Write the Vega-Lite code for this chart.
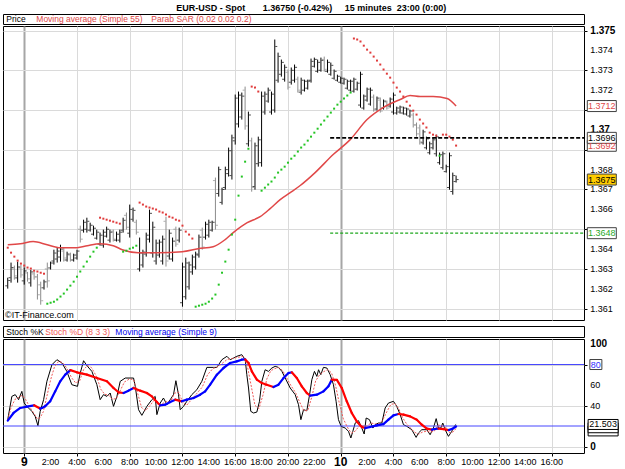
{
"$schema": "https://vega.github.io/schema/vega-lite/v6.json",
"background": "#ffffff",
"padding": {"left": 2, "top": 3, "right": 0, "bottom": 0},
"title": {"text": "EUR-USD - Spot\u00a0\u00a0\u00a0\u00a0\u00a0\u00a0 1.36750 (-0.42%)\u00a0\u00a0\u00a0\u00a0 15 minutes\u00a0 23:00 (0:00)", "fontSize": 9, "fontWeight": "bold", "font": "Liberation Sans", "anchor": "middle", "offset": 1, "color": "#000000"},
"config": {"view": {"stroke": "#000000", "strokeWidth": 1}, "font": "Liberation Sans"},
"datasets": {
"bars": [
{"t":-1.25,"o":1.36215,"h":1.36256,"l":1.36201,"c":1.36242,"sar":1.36407,"side":"d"},
{"t":-1,"o":1.36256,"h":1.36332,"l":1.36231,"c":1.36307,"sar":1.36382,"side":"d"},
{"t":-0.75,"o":1.363,"h":1.36317,"l":1.36246,"c":1.36265,"sar":1.36362,"side":"d"},
{"t":-0.5,"o":1.36255,"h":1.36337,"l":1.36231,"c":1.3631,"sar":1.36342,"side":"d"},
{"t":-0.25,"o":1.36305,"h":1.36322,"l":1.36256,"c":1.3627,"sar":1.36327,"side":"d"},
{"t":0,"o":1.3624,"h":1.36307,"l":1.36221,"c":1.3629,"sar":1.36317,"side":"d"},
{"t":0.25,"o":1.3628,"h":1.36285,"l":1.36236,"c":1.3625,"sar":1.36307,"side":"d"},
{"t":0.5,"o":1.3623,"h":1.36295,"l":1.36211,"c":1.36285,"sar":1.36302,"side":"d"},
{"t":0.75,"o":1.36275,"h":1.36285,"l":1.36246,"c":1.3626,"sar":1.36291,"side":"d"},
{"t":1,"o":1.3626,"h":1.36275,"l":1.36146,"c":1.3617,"sar":1.36287,"side":"d"},
{"t":1.25,"o":1.3622,"h":1.36236,"l":1.3612,"c":1.3614,"sar":1.36281,"side":"d"},
{"t":1.5,"o":1.36205,"h":1.36246,"l":1.36196,"c":1.36235,"sar":1.36276,"side":"d"},
{"t":1.75,"o":1.363,"h":1.36332,"l":1.36206,"c":1.3624,"sar":1.36125,"side":"u"},
{"t":2,"o":1.36305,"h":1.36337,"l":1.36297,"c":1.3633,"sar":1.3613,"side":"u"},
{"t":2.25,"o":1.3634,"h":1.36397,"l":1.36322,"c":1.3638,"sar":1.36135,"side":"u"},
{"t":2.5,"o":1.3635,"h":1.36407,"l":1.36332,"c":1.3639,"sar":1.36146,"side":"u"},
{"t":2.75,"o":1.3636,"h":1.36422,"l":1.36337,"c":1.364,"sar":1.36161,"side":"u"},
{"t":3,"o":1.3639,"h":1.36407,"l":1.36337,"c":1.36355,"sar":1.36176,"side":"u"},
{"t":3.25,"o":1.36345,"h":1.36387,"l":1.36337,"c":1.36375,"sar":1.36196,"side":"u"},
{"t":3.5,"o":1.3637,"h":1.36382,"l":1.36337,"c":1.36345,"sar":1.36216,"side":"u"},
{"t":3.75,"o":1.36345,"h":1.36377,"l":1.36337,"c":1.3637,"sar":1.36236,"side":"u"},
{"t":4,"o":1.36355,"h":1.36397,"l":1.36347,"c":1.3639,"sar":1.36261,"side":"u"},
{"t":4.25,"o":1.365,"h":1.36518,"l":1.36433,"c":1.3645,"sar":1.36287,"side":"u"},
{"t":4.5,"o":1.36495,"h":1.36548,"l":1.36483,"c":1.36535,"sar":1.36312,"side":"u"},
{"t":4.75,"o":1.365,"h":1.36558,"l":1.36483,"c":1.3654,"sar":1.36337,"side":"u"},
{"t":5,"o":1.36495,"h":1.36533,"l":1.36488,"c":1.3652,"sar":1.36362,"side":"u"},
{"t":5.25,"o":1.36475,"h":1.36518,"l":1.36468,"c":1.36505,"sar":1.36387,"side":"u"},
{"t":5.5,"o":1.36455,"h":1.36498,"l":1.36448,"c":1.36485,"sar":1.36407,"side":"u"},
{"t":5.75,"o":1.36425,"h":1.36483,"l":1.36417,"c":1.3647,"sar":1.36558,"side":"d"},
{"t":6,"o":1.3642,"h":1.36498,"l":1.36407,"c":1.36485,"sar":1.36553,"side":"d"},
{"t":6.25,"o":1.36465,"h":1.36513,"l":1.36458,"c":1.365,"sar":1.36548,"side":"d"},
{"t":6.5,"o":1.36445,"h":1.36498,"l":1.36433,"c":1.36485,"sar":1.36543,"side":"d"},
{"t":6.75,"o":1.3649,"h":1.36498,"l":1.36438,"c":1.3645,"sar":1.36538,"side":"d"},
{"t":7,"o":1.36445,"h":1.36488,"l":1.36438,"c":1.36475,"sar":1.36533,"side":"d"},
{"t":7.25,"o":1.36445,"h":1.36498,"l":1.36433,"c":1.36485,"sar":1.36528,"side":"d"},
{"t":7.5,"o":1.36495,"h":1.36558,"l":1.36483,"c":1.36545,"sar":1.36387,"side":"u"},
{"t":7.75,"o":1.3657,"h":1.36584,"l":1.36498,"c":1.3651,"sar":1.36392,"side":"u"},
{"t":8,"o":1.3648,"h":1.36624,"l":1.36458,"c":1.366,"sar":1.36402,"side":"u"},
{"t":8.25,"o":1.3655,"h":1.36609,"l":1.36538,"c":1.36595,"sar":1.36407,"side":"u"},
{"t":8.5,"o":1.36535,"h":1.36548,"l":1.36473,"c":1.36485,"sar":1.36417,"side":"u"},
{"t":8.75,"o":1.363,"h":1.36458,"l":1.36287,"c":1.3638,"sar":1.36634,"side":"d"},
{"t":9,"o":1.3632,"h":1.36397,"l":1.36307,"c":1.36385,"sar":1.36624,"side":"d"},
{"t":9.25,"o":1.36375,"h":1.36483,"l":1.36362,"c":1.3647,"sar":1.36614,"side":"d"},
{"t":9.5,"o":1.3645,"h":1.36599,"l":1.36433,"c":1.3658,"sar":1.36609,"side":"d"},
{"t":9.75,"o":1.3638,"h":1.36538,"l":1.36357,"c":1.3651,"sar":1.36604,"side":"d"},
{"t":10,"o":1.3634,"h":1.36448,"l":1.36322,"c":1.3643,"sar":1.36599,"side":"d"},
{"t":10.25,"o":1.3637,"h":1.36448,"l":1.36357,"c":1.36435,"sar":1.36589,"side":"d"},
{"t":10.5,"o":1.3634,"h":1.36468,"l":1.36322,"c":1.3645,"sar":1.36584,"side":"d"},
{"t":10.75,"o":1.3654,"h":1.36563,"l":1.36312,"c":1.3634,"sar":1.36574,"side":"d"},
{"t":11,"o":1.36365,"h":1.36498,"l":1.36347,"c":1.3648,"sar":1.36563,"side":"d"},
{"t":11.25,"o":1.3635,"h":1.36458,"l":1.36337,"c":1.3644,"sar":1.36558,"side":"d"},
{"t":11.5,"o":1.365,"h":1.36513,"l":1.36412,"c":1.36425,"sar":1.36548,"side":"d"},
{"t":11.75,"o":1.36445,"h":1.36508,"l":1.36433,"c":1.36495,"sar":1.36543,"side":"d"},
{"t":12,"o":1.3613,"h":1.36332,"l":1.3611,"c":1.3631,"sar":1.36518,"side":"d"},
{"t":12.25,"o":1.3616,"h":1.36357,"l":1.36146,"c":1.3633,"sar":1.36488,"side":"d"},
{"t":12.5,"o":1.3621,"h":1.36337,"l":1.36196,"c":1.3632,"sar":1.36473,"side":"d"},
{"t":12.75,"o":1.36285,"h":1.36372,"l":1.36271,"c":1.3636,"sar":1.36453,"side":"d"},
{"t":13,"o":1.3631,"h":1.36387,"l":1.36297,"c":1.36375,"sar":1.3611,"side":"u"},
{"t":13.25,"o":1.3637,"h":1.36473,"l":1.36357,"c":1.3646,"sar":1.36115,"side":"u"},
{"t":13.5,"o":1.36495,"h":1.36508,"l":1.36397,"c":1.3641,"sar":1.3612,"side":"u"},
{"t":13.75,"o":1.3646,"h":1.36538,"l":1.36448,"c":1.36525,"sar":1.36125,"side":"u"},
{"t":14,"o":1.3647,"h":1.36548,"l":1.36458,"c":1.36535,"sar":1.36135,"side":"u"},
{"t":14.25,"o":1.36495,"h":1.36543,"l":1.36488,"c":1.36535,"sar":1.36151,"side":"u"},
{"t":14.5,"o":1.36745,"h":1.3676,"l":1.36498,"c":1.3652,"sar":1.36171,"side":"u"},
{"t":14.75,"o":1.3668,"h":1.36815,"l":1.36664,"c":1.368,"sar":1.36221,"side":"u"},
{"t":15,"o":1.36635,"h":1.36709,"l":1.36624,"c":1.367,"sar":1.36281,"side":"u"},
{"t":15.25,"o":1.3671,"h":1.36815,"l":1.36699,"c":1.368,"sar":1.36337,"side":"u"},
{"t":15.5,"o":1.3678,"h":1.36911,"l":1.36765,"c":1.36895,"sar":1.36397,"side":"u"},
{"t":15.75,"o":1.3677,"h":1.36976,"l":1.3675,"c":1.3696,"sar":1.36473,"side":"u"},
{"t":16,"o":1.36945,"h":1.37178,"l":1.36926,"c":1.3716,"sar":1.36548,"side":"u"},
{"t":16.25,"o":1.3703,"h":1.37193,"l":1.37012,"c":1.37175,"sar":1.36669,"side":"u"},
{"t":16.5,"o":1.37065,"h":1.37188,"l":1.37052,"c":1.3717,"sar":1.36765,"side":"u"},
{"t":16.75,"o":1.372,"h":1.37218,"l":1.37001,"c":1.3702,"sar":1.3684,"side":"u"},
{"t":17,"o":1.3693,"h":1.37092,"l":1.36916,"c":1.37075,"sar":1.36905,"side":"u"},
{"t":17.25,"o":1.36945,"h":1.36961,"l":1.36689,"c":1.3671,"sar":1.37218,"side":"d"},
{"t":17.5,"o":1.36715,"h":1.36936,"l":1.36699,"c":1.3692,"sar":1.37213,"side":"d"},
{"t":17.75,"o":1.3683,"h":1.36966,"l":1.36815,"c":1.3695,"sar":1.37193,"side":"d"},
{"t":18,"o":1.36835,"h":1.37193,"l":1.36815,"c":1.3717,"sar":1.36694,"side":"u"},
{"t":18.25,"o":1.3709,"h":1.37193,"l":1.37077,"c":1.3718,"sar":1.36709,"side":"u"},
{"t":18.5,"o":1.37145,"h":1.37213,"l":1.37137,"c":1.372,"sar":1.36725,"side":"u"},
{"t":18.75,"o":1.3709,"h":1.37193,"l":1.37077,"c":1.3718,"sar":1.3674,"side":"u"},
{"t":19,"o":1.371,"h":1.37455,"l":1.37087,"c":1.3742,"sar":1.3676,"side":"u"},
{"t":19.25,"o":1.3725,"h":1.37389,"l":1.37238,"c":1.3737,"sar":1.36785,"side":"u"},
{"t":19.5,"o":1.3728,"h":1.37354,"l":1.37268,"c":1.3734,"sar":1.368,"side":"u"},
{"t":19.75,"o":1.37255,"h":1.37329,"l":1.37243,"c":1.37315,"sar":1.36815,"side":"u"},
{"t":20,"o":1.3729,"h":1.37304,"l":1.37203,"c":1.37215,"sar":1.36835,"side":"u"},
{"t":20.25,"o":1.3724,"h":1.37314,"l":1.37228,"c":1.373,"sar":1.36855,"side":"u"},
{"t":20.5,"o":1.3725,"h":1.37329,"l":1.37238,"c":1.37315,"sar":1.3687,"side":"u"},
{"t":20.75,"o":1.37255,"h":1.37268,"l":1.37188,"c":1.372,"sar":1.36891,"side":"u"},
{"t":21,"o":1.3719,"h":1.37263,"l":1.37178,"c":1.3725,"sar":1.36911,"side":"u"},
{"t":21.25,"o":1.372,"h":1.37253,"l":1.37193,"c":1.37245,"sar":1.36926,"side":"u"},
{"t":21.5,"o":1.3721,"h":1.37253,"l":1.37203,"c":1.37245,"sar":1.36946,"side":"u"},
{"t":21.75,"o":1.3725,"h":1.37359,"l":1.37238,"c":1.37345,"sar":1.36966,"side":"u"},
{"t":22,"o":1.3732,"h":1.37364,"l":1.37314,"c":1.37355,"sar":1.36986,"side":"u"},
{"t":22.25,"o":1.37295,"h":1.37354,"l":1.37288,"c":1.3734,"sar":1.37006,"side":"u"},
{"t":22.5,"o":1.373,"h":1.37364,"l":1.37293,"c":1.3735,"sar":1.37027,"side":"u"},
{"t":22.75,"o":1.37355,"h":1.37369,"l":1.37293,"c":1.37305,"sar":1.37047,"side":"u"},
{"t":23,"o":1.37295,"h":1.37354,"l":1.37288,"c":1.3734,"sar":1.37067,"side":"u"},
{"t":23.25,"o":1.3728,"h":1.37339,"l":1.37273,"c":1.37325,"sar":1.37087,"side":"u"},
{"t":23.5,"o":1.3726,"h":1.37304,"l":1.37253,"c":1.37295,"sar":1.37107,"side":"u"},
{"t":23.75,"o":1.3725,"h":1.37278,"l":1.37243,"c":1.3727,"sar":1.37127,"side":"u"},
{"t":24,"o":1.3724,"h":1.37268,"l":1.37233,"c":1.3726,"sar":1.37142,"side":"u"},
{"t":24.25,"o":1.37235,"h":1.37263,"l":1.37228,"c":1.37255,"sar":1.37158,"side":"u"},
{"t":24.5,"o":1.3721,"h":1.37253,"l":1.37203,"c":1.37245,"sar":1.37173,"side":"u"},
{"t":24.75,"o":1.372,"h":1.37253,"l":1.37193,"c":1.37245,"sar":1.37188,"side":"u"},
{"t":25,"o":1.37195,"h":1.37263,"l":1.37188,"c":1.37255,"sar":1.3746,"side":"d"},
{"t":25.25,"o":1.37205,"h":1.37243,"l":1.37198,"c":1.37235,"sar":1.37455,"side":"d"},
{"t":25.5,"o":1.37125,"h":1.37293,"l":1.37112,"c":1.3728,"sar":1.37445,"side":"d"},
{"t":25.75,"o":1.3711,"h":1.37178,"l":1.37102,"c":1.3717,"sar":1.37424,"side":"d"},
{"t":26,"o":1.3715,"h":1.37213,"l":1.37142,"c":1.37205,"sar":1.37404,"side":"d"},
{"t":26.25,"o":1.3713,"h":1.37213,"l":1.37122,"c":1.372,"sar":1.37389,"side":"d"},
{"t":26.5,"o":1.37165,"h":1.37178,"l":1.37092,"c":1.371,"sar":1.37369,"side":"d"},
{"t":26.75,"o":1.37105,"h":1.37168,"l":1.37097,"c":1.3716,"sar":1.37349,"side":"d"},
{"t":27,"o":1.3715,"h":1.37163,"l":1.37087,"c":1.37095,"sar":1.37329,"side":"d"},
{"t":27.25,"o":1.3711,"h":1.37153,"l":1.37102,"c":1.37145,"sar":1.37304,"side":"d"},
{"t":27.5,"o":1.3714,"h":1.37148,"l":1.37102,"c":1.3711,"sar":1.37283,"side":"d"},
{"t":27.75,"o":1.3712,"h":1.37163,"l":1.37112,"c":1.37155,"sar":1.37263,"side":"d"},
{"t":28,"o":1.3709,"h":1.37188,"l":1.37077,"c":1.37175,"sar":1.37238,"side":"d"},
{"t":28.25,"o":1.37085,"h":1.37117,"l":1.37077,"c":1.3711,"sar":1.37213,"side":"d"},
{"t":28.5,"o":1.3709,"h":1.37122,"l":1.37082,"c":1.37115,"sar":1.37193,"side":"d"},
{"t":28.75,"o":1.37085,"h":1.37117,"l":1.37077,"c":1.3711,"sar":1.37168,"side":"d"},
{"t":29,"o":1.3708,"h":1.37112,"l":1.37072,"c":1.37105,"sar":1.37142,"side":"d"},
{"t":29.25,"o":1.3707,"h":1.37102,"l":1.37062,"c":1.37095,"sar":1.37122,"side":"d"},
{"t":29.5,"o":1.37075,"h":1.37087,"l":1.37012,"c":1.37025,"sar":1.37097,"side":"d"},
{"t":29.75,"o":1.37025,"h":1.37037,"l":1.36966,"c":1.3698,"sar":1.37077,"side":"d"},
{"t":30,"o":1.3701,"h":1.37027,"l":1.36926,"c":1.3694,"sar":1.37052,"side":"d"},
{"t":30.25,"o":1.36935,"h":1.37001,"l":1.36926,"c":1.3699,"sar":1.37032,"side":"d"},
{"t":30.5,"o":1.3691,"h":1.36966,"l":1.36901,"c":1.36955,"sar":1.37012,"side":"d"},
{"t":30.75,"o":1.36885,"h":1.36941,"l":1.36876,"c":1.3693,"sar":1.36986,"side":"d"},
{"t":31,"o":1.3691,"h":1.36961,"l":1.36901,"c":1.3695,"sar":1.36976,"side":"d"},
{"t":31.25,"o":1.3688,"h":1.36976,"l":1.36866,"c":1.36965,"sar":1.36971,"side":"d"},
{"t":31.5,"o":1.36835,"h":1.36886,"l":1.36825,"c":1.36875,"sar":1.3687,"side":"u"},
{"t":31.75,"o":1.3681,"h":1.36891,"l":1.368,"c":1.3688,"sar":1.36976,"side":"d"},
{"t":32,"o":1.3679,"h":1.36825,"l":1.36785,"c":1.36815,"sar":1.36976,"side":"d"},
{"t":32.25,"o":1.3671,"h":1.36886,"l":1.36699,"c":1.3687,"sar":1.36966,"side":"d"},
{"t":32.5,"o":1.3669,"h":1.36785,"l":1.36674,"c":1.3677,"sar":1.36951,"side":"d"},
{"t":32.75,"o":1.3674,"h":1.3677,"l":1.36735,"c":1.3675,"sar":1.36921,"side":"d"}
],
"ma": [
{"t":-1.25,"v":1.36422},{"t":-0.3,"v":1.36427},{"t":0.68,"v":1.36438},{"t":1.74,"v":1.36422},{"t":2.73,"v":1.36407},{"t":4.02,"v":1.36407},{"t":4.78,"v":1.36417},{"t":5.76,"v":1.36427},{"t":6.75,"v":1.36417},{"t":7.43,"v":1.36397},{"t":8.64,"v":1.36382},{"t":10.16,"v":1.36382},{"t":11.98,"v":1.36387},{"t":13.19,"v":1.36402},{"t":14.33,"v":1.36412},{"t":15.24,"v":1.36448},{"t":15.85,"v":1.36483},{"t":16.91,"v":1.36533},{"t":17.89,"v":1.36563},{"t":18.65,"v":1.36604},{"t":19.41,"v":1.36649},{"t":20.17,"v":1.36684},{"t":20.93,"v":1.3672},{"t":22.06,"v":1.36785},{"t":23.43,"v":1.36876},{"t":24.72,"v":1.36951},{"t":26,"v":1.37052},{"t":27.22,"v":1.37112},{"t":28.51,"v":1.37153},{"t":29.26,"v":1.37173},{"t":30.02,"v":1.37168},{"t":31.01,"v":1.37168},{"t":32.07,"v":1.37158},{"t":32.75,"v":1.3712}
],
"stk": [
{"t":-1.25,"v":26.2},{"t":-0.94,"v":48.9},{"t":-0.68,"v":50.6},{"t":-0.43,"v":45.7},{"t":-0.18,"v":53.8},{"t":0,"v":42.4},{"t":0.2,"v":39.2},{"t":0.58,"v":34.3},{"t":0.83,"v":29.4},{"t":1.04,"v":20.3},{"t":1.21,"v":34.3},{"t":1.47,"v":45.7},{"t":1.72,"v":63.6},{"t":2.1,"v":79.8},{"t":2.48,"v":84.7},{"t":2.86,"v":81.5},{"t":3.23,"v":73.3},{"t":3.61,"v":60.3},{"t":4.04,"v":58.7},{"t":4.25,"v":71.7},{"t":4.5,"v":83.7},{"t":4.8,"v":78.2},{"t":5.13,"v":73.3},{"t":5.51,"v":60.3},{"t":5.76,"v":45.7},{"t":6.01,"v":50.6},{"t":6.27,"v":48.9},{"t":6.52,"v":52.2},{"t":6.77,"v":39.2},{"t":7.03,"v":48.9},{"t":7.28,"v":63.6},{"t":7.66,"v":66.8},{"t":8.04,"v":66.8},{"t":8.29,"v":66.8},{"t":8.42,"v":58.7},{"t":8.67,"v":35.9},{"t":8.92,"v":30.4},{"t":9.3,"v":39.2},{"t":9.68,"v":45.7},{"t":9.93,"v":48.9},{"t":10.06,"v":31.1},{"t":10.31,"v":42.4},{"t":10.56,"v":47.3},{"t":10.82,"v":40.8},{"t":11.07,"v":45.7},{"t":11.32,"v":50.6},{"t":11.5,"v":64.2},{"t":11.7,"v":50.6},{"t":11.83,"v":35.9},{"t":12.08,"v":39.2},{"t":12.33,"v":44.1},{"t":12.71,"v":50.6},{"t":13.09,"v":55.4},{"t":13.47,"v":63.6},{"t":13.85,"v":77.2},{"t":14.35,"v":77.2},{"t":14.61,"v":77.2},{"t":14.99,"v":84.7},{"t":15.37,"v":88},{"t":15.62,"v":84.7},{"t":15.87,"v":86.3},{"t":16.12,"v":88},{"t":16.5,"v":89.6},{"t":16.76,"v":84.7},{"t":16.88,"v":70.1},{"t":17.01,"v":57.1},{"t":17.18,"v":34.3},{"t":17.39,"v":32.7},{"t":17.64,"v":33.6},{"t":17.84,"v":44.1},{"t":18.02,"v":63.6},{"t":18.27,"v":74.9},{"t":18.52,"v":73.3},{"t":18.78,"v":76.6},{"t":19.03,"v":78.2},{"t":19.28,"v":77.2},{"t":19.54,"v":73.3},{"t":19.79,"v":66.8},{"t":20.17,"v":57.1},{"t":20.55,"v":50.6},{"t":20.8,"v":40.8},{"t":20.98,"v":26.2},{"t":21.18,"v":35.9},{"t":21.43,"v":34.9},{"t":21.64,"v":50.6},{"t":21.81,"v":65.2},{"t":22.01,"v":73.3},{"t":22.19,"v":68.4},{"t":22.32,"v":74.9},{"t":22.49,"v":70.1},{"t":22.69,"v":77.2},{"t":22.95,"v":76.6},{"t":23.2,"v":70.1},{"t":23.45,"v":60.3},{"t":23.65,"v":44.1},{"t":23.83,"v":26.2},{"t":24.03,"v":19.7},{"t":24.34,"v":18},{"t":24.59,"v":14.8},{"t":24.77,"v":8.3},{"t":24.92,"v":14.8},{"t":25.1,"v":22.9},{"t":25.35,"v":25.2},{"t":25.6,"v":18},{"t":25.78,"v":12.2},{"t":25.93,"v":27.8},{"t":26.18,"v":26.2},{"t":26.44,"v":18},{"t":26.61,"v":21.3},{"t":26.86,"v":22.9},{"t":27.12,"v":22.9},{"t":27.37,"v":37.6},{"t":27.62,"v":42.4},{"t":28,"v":44.1},{"t":28.25,"v":39.2},{"t":28.51,"v":31.1},{"t":28.76,"v":21.3},{"t":29.01,"v":19.7},{"t":29.39,"v":16.4},{"t":29.72,"v":8.9},{"t":29.9,"v":13.2},{"t":30.15,"v":16.4},{"t":30.53,"v":16.4},{"t":30.78,"v":11.5},{"t":31.03,"v":18},{"t":31.24,"v":27.2},{"t":31.41,"v":18},{"t":31.59,"v":18},{"t":31.74,"v":22.9},{"t":31.92,"v":16.4},{"t":32.17,"v":9.9},{"t":32.42,"v":14.8},{"t":32.6,"v":19.7},{"t":32.75,"v":21.5}
],
"std": [
{"t":-1.25,"v":26},{"t":-1,"v":38},{"t":-0.7,"v":46},{"t":-0.4,"v":48},{"t":-0.15,"v":50},{"t":0.1,"v":46},{"t":0.4,"v":39},{"t":0.7,"v":33},{"t":1,"v":27},{"t":1.2,"v":28},{"t":1.45,"v":34},{"t":1.7,"v":48},{"t":2,"v":65},{"t":2.3,"v":78},{"t":2.6,"v":83},{"t":2.9,"v":82},{"t":3.2,"v":77},{"t":3.6,"v":67},{"t":3.9,"v":62},{"t":4.2,"v":64},{"t":4.5,"v":75},{"t":4.8,"v":79},{"t":5.1,"v":77},{"t":5.5,"v":68},{"t":5.8,"v":56},{"t":6.1,"v":51},{"t":6.4,"v":50},{"t":6.7,"v":46},{"t":7,"v":47},{"t":7.3,"v":55},{"t":7.6,"v":63},{"t":8,"v":66},{"t":8.3,"v":65},{"t":8.6,"v":52},{"t":8.9,"v":38},{"t":9.2,"v":35},{"t":9.6,"v":41},{"t":9.9,"v":46},{"t":10.2,"v":40},{"t":10.5,"v":42},{"t":10.8,"v":44},{"t":11.1,"v":44},{"t":11.4,"v":52},{"t":11.7,"v":53},{"t":12,"v":44},{"t":12.3,"v":40},{"t":12.7,"v":46},{"t":13.1,"v":52},{"t":13.5,"v":58},{"t":13.9,"v":70},{"t":14.3,"v":76},{"t":14.7,"v":78},{"t":15,"v":81},{"t":15.4,"v":85},{"t":15.8,"v":86},{"t":16.2,"v":87},{"t":16.6,"v":88},{"t":16.9,"v":80},{"t":17.2,"v":60},{"t":17.5,"v":40},{"t":17.8,"v":37},{"t":18.1,"v":50},{"t":18.4,"v":66},{"t":18.7,"v":74},{"t":19,"v":76},{"t":19.3,"v":77},{"t":19.6,"v":74},{"t":19.9,"v":67},{"t":20.2,"v":60},{"t":20.6,"v":52},{"t":20.9,"v":43},{"t":21.2,"v":35},{"t":21.5,"v":35},{"t":21.8,"v":48},{"t":22.1,"v":64},{"t":22.4,"v":70},{"t":22.7,"v":73},{"t":23,"v":75},{"t":23.3,"v":72},{"t":23.6,"v":60},{"t":23.9,"v":42},{"t":24.2,"v":27},{"t":24.5,"v":19},{"t":24.8,"v":13},{"t":25.1,"v":15},{"t":25.4,"v":20},{"t":25.7,"v":20},{"t":26,"v":20},{"t":26.3,"v":23},{"t":26.6,"v":22},{"t":26.9,"v":22},{"t":27.2,"v":26},{"t":27.5,"v":34},{"t":27.8,"v":41},{"t":28.1,"v":42},{"t":28.4,"v":37},{"t":28.7,"v":28},{"t":29,"v":22},{"t":29.3,"v":18},{"t":29.6,"v":14},{"t":29.9,"v":12},{"t":30.2,"v":14},{"t":30.5,"v":15},{"t":30.8,"v":14},{"t":31.1,"v":15},{"t":31.4,"v":21},{"t":31.7,"v":20},{"t":32,"v":18},{"t":32.3,"v":13},{"t":32.6,"v":15},{"t":32.75,"v":18}
],
"sma": [
{"t":-1.25,"v":25.2},{"t":-0.81,"v":32.7},{"t":-0.3,"v":37.6},{"t":0.2,"v":38.9},{"t":0.75,"v":40.2},{"t":1.2,"v":37},{"t":1.34,"v":37.6},{"t":1.59,"v":39.2},{"t":1.97,"v":44.1},{"t":2.35,"v":53.8},{"t":2.73,"v":63.6},{"t":3.11,"v":70.1},{"t":3.5,"v":74.5},{"t":3.99,"v":72.4},{"t":4.75,"v":70.1},{"t":5.51,"v":66.8},{"t":6.27,"v":63.6},{"t":6.77,"v":57.1},{"t":7.15,"v":52.9},{"t":7.53,"v":52.2},{"t":7.91,"v":54.5},{"t":8.29,"v":57.1},{"t":8.79,"v":54.5},{"t":9.3,"v":52.2},{"t":9.68,"v":48.9},{"t":10.06,"v":43.4},{"t":10.31,"v":40.2},{"t":10.69,"v":40.8},{"t":11.07,"v":43.4},{"t":11.45,"v":45.7},{"t":11.95,"v":44.1},{"t":12.33,"v":45.7},{"t":12.84,"v":47.3},{"t":13.34,"v":50.6},{"t":13.72,"v":53.8},{"t":14.1,"v":60.3},{"t":14.61,"v":70.1},{"t":15.11,"v":76.6},{"t":15.62,"v":81.5},{"t":16.12,"v":83.1},{"t":16.5,"v":84.7},{"t":16.76,"v":85},{"t":17.01,"v":81.5},{"t":17.26,"v":73.3},{"t":17.64,"v":65.2},{"t":18.02,"v":61.9},{"t":18.39,"v":60.3},{"t":18.9,"v":58},{"t":19.28,"v":60.3},{"t":19.66,"v":66.8},{"t":20.04,"v":71.7},{"t":20.29,"v":72.4},{"t":20.67,"v":66.8},{"t":21.05,"v":58.7},{"t":21.43,"v":52.2},{"t":21.68,"v":49.6},{"t":22.19,"v":50.6},{"t":22.69,"v":53.8},{"t":23.07,"v":58.7},{"t":23.32,"v":65.2},{"t":23.71,"v":65},{"t":24.08,"v":57.1},{"t":24.46,"v":44.1},{"t":24.84,"v":32.7},{"t":25.22,"v":24.5},{"t":25.6,"v":19},{"t":25.85,"v":18},{"t":26.23,"v":19},{"t":26.74,"v":20.6},{"t":27.24,"v":21.9},{"t":27.62,"v":26.2},{"t":28,"v":30.4},{"t":28.38,"v":31.7},{"t":28.76,"v":31.1},{"t":29.26,"v":29.4},{"t":29.77,"v":26.2},{"t":30.15,"v":21.3},{"t":30.53,"v":17.4},{"t":30.91,"v":16.4},{"t":31.16,"v":17.1},{"t":31.41,"v":17.5},{"t":31.8,"v":17},{"t":32.2,"v":16},{"t":32.5,"v":17.5},{"t":32.75,"v":19.5}
],
"plabels": [
{"v":1.3712,"label":"1.3712","kind":"ma"},
{"v":1.3692,"label":"1.3692","kind":"sar"},
{"v":1.3696,"label":"1.3696","kind":"lvl"},
{"v":1.3675,"label":"1.3675","kind":"last"},
{"v":1.3648,"label":"1.3648","kind":"sup"}
],
"slabels": [
{"v":80,"label":"80","kind":"lvl"},
{"v":15.2,"label":"","kind":"hid"},
{"v":18.3,"label":"","kind":"hid"},
{"v":21.503,"label":"21.503","kind":"k"}
],
"pticks": [
{"v":1.361,"label":"1.361"},{"v":1.362,"label":"1.362"},{"v":1.363,"label":"1.363"},{"v":1.364,"label":"1.364"},{"v":1.366,"label":"1.366"},{"v":1.367,"label":"1.367"},{"v":1.368,"label":"1.368"},{"v":1.37,"label":"1.37"},{"v":1.372,"label":"1.372"},{"v":1.373,"label":"1.373"},{"v":1.374,"label":"1.374"},{"v":1.375,"label":"1.375"}
],
"sticks": [
{"v":0,"label":"0"},{"v":40,"label":"40"},{"v":60,"label":"60"},{"v":100,"label":"100"}
],
"xticks": [
{"t":0,"label":"9"},{"t":2,"label":"2:00"},{"t":4,"label":"4:00"},{"t":6,"label":"6:00"},{"t":8,"label":"8:00"},{"t":10,"label":"10:00"},{"t":12,"label":"12:00"},{"t":14,"label":"14:00"},{"t":16,"label":"16:00"},{"t":18,"label":"18:00"},{"t":20,"label":"20:00"},{"t":22,"label":"22:00"},{"t":24,"label":"10"},{"t":26,"label":"2:00"},{"t":28,"label":"4:00"},{"t":30,"label":"6:00"},{"t":32,"label":"8:00"},{"t":34,"label":"10:00"},{"t":36,"label":"12:00"},{"t":38,"label":"14:00"},{"t":40,"label":"16:00"}
]
},
"spacing": 4,
"vconcat": [
{"spacing": 0, "vconcat": [
 {"width": 581, "height": 10, "data": {"values": [{}]},
  "layer": [
   {"mark": {"type": "text", "text": "Price", "align": "left", "baseline": "middle", "fontSize": 8.5, "color": "#000000"},
    "encoding": {"x": {"datum": -1.36, "type": "quantitative", "scale": {"domain": [-1.61, 42.45], "nice": false, "zero": false}, "axis": null}, "y": {"datum": 0.5, "type": "quantitative", "scale": {"domain": [0, 1]}, "axis": null}}},
   {"mark": {"type": "text", "text": "Moving average (Simple 55)", "align": "left", "baseline": "middle", "fontSize": 8.5, "color": "#e04848"},
    "encoding": {"x": {"datum": 0.915, "type": "quantitative", "scale": {"domain": [-1.61, 42.45], "nice": false, "zero": false}, "axis": null}, "y": {"datum": 0.5, "type": "quantitative", "scale": {"domain": [0, 1]}, "axis": null}}},
   {"mark": {"type": "text", "text": "Parab SAR (0.02 0.02 0.2)", "align": "left", "baseline": "middle", "fontSize": 8.5, "color": "#e04848"},
    "encoding": {"x": {"datum": 9.64, "type": "quantitative", "scale": {"domain": [-1.61, 42.45], "nice": false, "zero": false}, "axis": null}, "y": {"datum": 0.5, "type": "quantitative", "scale": {"domain": [0, 1]}, "axis": null}}}
  ]},
 {"width": 581, "height": 294,
  "layer": [
   {"data": {"name": "bars"},
    "mark": {"type": "rule", "strokeWidth": 1},
    "encoding": {
     "x": {"field": "t", "type": "quantitative", "scale": {"domain": [-1.61, 42.45], "nice": false, "zero": false},
       "axis": {"orient": "bottom", "values": [0,2,4,6,8,10,12,14,16,18,20,22,24,26,28,30,32,34,36,38,40], "labels": false, "ticks": false, "domain": false, "title": null, "grid": true,
         "gridColor": {"condition": {"test": "datum.value % 24 === 0", "value": "#a6a6a6"}, "value": "#dadada"},
         "gridWidth": {"condition": {"test": "datum.value % 24 === 0", "value": 2}, "value": 1}}},
     "y": {"field": "l", "type": "quantitative", "scale": {"domain": [1.36043, 1.37523], "nice": false, "zero": false},
       "axis": {"orient": "right", "values": [1.361,1.362,1.363,1.364,1.365,1.366,1.367,1.368,1.369,1.37,1.371,1.372,1.373,1.374,1.375], "title": null, "domain": false, "grid": true, "gridColor": "#dadada", "tickSize": 3, "tickColor": "#000000", "labels": false}},
     "y2": {"field": "h"},
     "color": {"condition": {"test": "datum.c < datum.o", "value": "#8c8c8c"}, "value": "#000000"}
    }},
   {"data": {"name": "bars"},
    "mark": {"type": "tick", "orient": "horizontal", "size": 2, "thickness": 1, "xOffset": -1.5},
    "encoding": {
     "x": {"field": "t", "type": "quantitative", "scale": {"domain": [-1.61, 42.45], "nice": false, "zero": false}},
     "y": {"field": "o", "type": "quantitative", "scale": {"domain": [1.36043, 1.37523], "nice": false, "zero": false}},
     "color": {"condition": {"test": "datum.c < datum.o", "value": "#8c8c8c"}, "value": "#000000"}
    }},
   {"data": {"name": "bars"},
    "mark": {"type": "tick", "orient": "horizontal", "size": 2, "thickness": 1, "xOffset": 1.5},
    "encoding": {
     "x": {"field": "t", "type": "quantitative", "scale": {"domain": [-1.61, 42.45], "nice": false, "zero": false}},
     "y": {"field": "c", "type": "quantitative", "scale": {"domain": [1.36043, 1.37523], "nice": false, "zero": false}},
     "color": {"condition": {"test": "datum.c < datum.o", "value": "#8c8c8c"}, "value": "#000000"}
    }},
   {"data": {"name": "ma"},
    "mark": {"type": "line", "color": "#e04848", "strokeWidth": 1.5, "interpolate": "monotone"},
    "encoding": {
     "x": {"field": "t", "type": "quantitative", "scale": {"domain": [-1.61, 42.45], "nice": false, "zero": false}},
     "y": {"field": "v", "type": "quantitative", "scale": {"domain": [1.36043, 1.37523], "nice": false, "zero": false}}
    }},
   {"data": {"name": "bars"},
    "mark": {"type": "square", "size": 4, "opacity": 1, "filled": true},
    "encoding": {
     "x": {"field": "t", "type": "quantitative", "scale": {"domain": [-1.61, 42.45], "nice": false, "zero": false}},
     "y": {"field": "sar", "type": "quantitative", "scale": {"domain": [1.36043, 1.37523], "nice": false, "zero": false}},
     "color": {"condition": {"test": "datum.side === 'd'", "value": "#e03a3a"}, "value": "#22c422"}
    }},
   {"data": {"values": [{}]},
    "mark": {"type": "rule", "color": "#000000", "strokeWidth": 1.6, "strokeDash": [4, 2]},
    "encoding": {
     "x": {"datum": 23.2, "type": "quantitative", "scale": {"domain": [-1.61, 42.45], "nice": false, "zero": false}},
     "x2": {"datum": 42.45},
     "y": {"datum": 1.3696, "type": "quantitative", "scale": {"domain": [1.36043, 1.37523], "nice": false, "zero": false}}
    }},
   {"data": {"values": [{}]},
    "mark": {"type": "rule", "color": "#1fa81f", "strokeWidth": 1.2, "strokeDash": [3, 2]},
    "encoding": {
     "x": {"datum": 23.2, "type": "quantitative", "scale": {"domain": [-1.61, 42.45], "nice": false, "zero": false}},
     "x2": {"datum": 42.45},
     "y": {"datum": 1.3648, "type": "quantitative", "scale": {"domain": [1.36043, 1.37523], "nice": false, "zero": false}}
    }},
   {"data": {"values": [{}]},
    "mark": {"type": "text", "text": "\u00a9IT-Finance.com", "align": "left", "baseline": "middle", "fontSize": 9, "color": "#000000"},
    "encoding": {
     "x": {"datum": -1.45, "type": "quantitative", "scale": {"domain": [-1.61, 42.45], "nice": false, "zero": false}},
     "y": {"datum": 1.3607, "type": "quantitative", "scale": {"domain": [1.36043, 1.37523], "nice": false, "zero": false}}
    }},
   {"data": {"name": "pticks"},
    "transform": [{"filter": "datum.v !== 1.375 && datum.v !== 1.37"}],
    "mark": {"type": "text", "align": "left", "baseline": "middle", "fontSize": 9, "color": "#000000"},
    "encoding": {
     "x": {"datum": 42.93, "type": "quantitative", "scale": {"domain": [-1.61, 42.45], "nice": false, "zero": false}},
     "y": {"field": "v", "type": "quantitative", "scale": {"domain": [1.36043, 1.37523], "nice": false, "zero": false}},
     "text": {"field": "label"}
    }},
   {"data": {"name": "pticks"},
    "transform": [{"filter": "datum.v === 1.375 || datum.v === 1.37"}],
    "mark": {"type": "text", "align": "left", "baseline": "middle", "fontSize": 10, "fontWeight": "bold", "color": "#000000"},
    "encoding": {
     "x": {"datum": 42.93, "type": "quantitative", "scale": {"domain": [-1.61, 42.45], "nice": false, "zero": false}},
     "y": {"field": "v", "type": "quantitative", "scale": {"domain": [1.36043, 1.37523], "nice": false, "zero": false}},
     "text": {"field": "label"}
    }},
   {"data": {"name": "plabels"},
    "mark": {"type": "point", "shape": "M-1,-0.379H1V0.379H-1Z", "size": 841, "filled": true, "opacity": 1, "stroke": "#404040", "strokeWidth": 1},
    "encoding": {
     "x": {"datum": 43.8, "type": "quantitative", "scale": {"domain": [-1.61, 42.45], "nice": false, "zero": false}},
     "y": {"field": "v", "type": "quantitative", "scale": {"domain": [1.36043, 1.37523], "nice": false, "zero": false}},
     "fill": {"condition": {"test": "datum.kind === 'last'", "value": "#ffcc00"}, "value": "#ffffff"}
    }},
   {"data": {"name": "plabels"},
    "mark": {"type": "text", "align": "center", "baseline": "middle", "fontSize": 9},
    "encoding": {
     "x": {"datum": 43.8, "type": "quantitative", "scale": {"domain": [-1.61, 42.45], "nice": false, "zero": false}},
     "y": {"field": "v", "type": "quantitative", "scale": {"domain": [1.36043, 1.37523], "nice": false, "zero": false}},
     "text": {"field": "label"},
     "color": {"condition": [{"test": "datum.kind === 'ma' || datum.kind === 'sar'", "value": "#e04848"}, {"test": "datum.kind === 'sup'", "value": "#1fa81f"}], "value": "#000000"}
    }}
  ]}
]},
{"spacing": 0, "vconcat": [
 {"width": 581, "height": 11, "data": {"values": [{}]},
  "layer": [
   {"mark": {"type": "text", "text": "Stoch %K", "align": "left", "baseline": "middle", "fontSize": 8.5, "color": "#000000"},
    "encoding": {"x": {"datum": -1.36, "type": "quantitative", "scale": {"domain": [-1.61, 42.45], "nice": false, "zero": false}, "axis": null}, "y": {"datum": 0.5, "type": "quantitative", "scale": {"domain": [0, 1]}, "axis": null}}},
   {"mark": {"type": "text", "text": "Stoch %D (8 3 3)", "align": "left", "baseline": "middle", "fontSize": 8.5, "color": "#f05a5a"},
    "encoding": {"x": {"datum": 1.6, "type": "quantitative", "scale": {"domain": [-1.61, 42.45], "nice": false, "zero": false}, "axis": null}, "y": {"datum": 0.5, "type": "quantitative", "scale": {"domain": [0, 1]}, "axis": null}}},
   {"mark": {"type": "text", "text": "Moving average (Simple 9)", "align": "left", "baseline": "middle", "fontSize": 8.5, "color": "#0000ee"},
    "encoding": {"x": {"datum": 6.91, "type": "quantitative", "scale": {"domain": [-1.61, 42.45], "nice": false, "zero": false}, "axis": null}, "y": {"datum": 0.5, "type": "quantitative", "scale": {"domain": [0, 1]}, "axis": null}}}
  ]},
 {"width": 581, "height": 114,
  "layer": [
   {"data": {"name": "stk"},
    "mark": {"type": "line", "color": "#000000", "strokeWidth": 1},
    "encoding": {
     "x": {"field": "t", "type": "quantitative", "scale": {"domain": [-1.61, 42.45], "nice": false, "zero": false},
       "axis": {"orient": "bottom", "values": [0,2,4,6,8,10,12,14,16,18,20,22,24,26,28,30,32,34,36,38,40], "title": null, "domain": false, "ticks": true, "tickSize": 3, "tickColor": "#000000", "labels": false,
         "grid": true,
         "gridColor": {"condition": {"test": "datum.value % 24 === 0", "value": "#a6a6a6"}, "value": "#dadada"},
         "gridWidth": {"condition": {"test": "datum.value % 24 === 0", "value": 2}, "value": 1}}},
     "y": {"field": "v", "type": "quantitative", "scale": {"domain": [-6.34, 104.9], "nice": false, "zero": false},
       "axis": {"orient": "right", "values": [0,20,40,60,80,100], "title": null, "domain": false, "grid": true, "gridColor": "#dadada", "tickSize": 3, "tickColor": "#000000", "labels": false}}
    }},
   {"data": {"values": [{"lvl": 20}, {"lvl": 80}]},
    "mark": {"type": "rule", "color": "#4646ff", "strokeWidth": 1},
    "encoding": {
     "y": {"field": "lvl", "type": "quantitative", "scale": {"domain": [-6.34, 104.9], "nice": false, "zero": false}}
    }},
   {"data": {"name": "std"},
    "mark": {"type": "line", "color": "#f05a5a", "strokeWidth": 1, "strokeDash": [2, 1.5]},
    "encoding": {
     "x": {"field": "t", "type": "quantitative", "scale": {"domain": [-1.61, 42.45], "nice": false, "zero": false}},
     "y": {"field": "v", "type": "quantitative", "scale": {"domain": [-6.34, 104.9], "nice": false, "zero": false}}
    }},
   {"data": {"name": "sma"},
    "transform": [
     {"window": [{"op": "lead", "field": "t", "as": "t2"}, {"op": "lead", "field": "v", "as": "v2"}], "sort": [{"field": "t", "order": "ascending"}]},
     {"filter": "datum.t2 != null"}
    ],
    "mark": {"type": "rule", "strokeWidth": 2.2, "strokeCap": "round"},
    "encoding": {
     "x": {"field": "t", "type": "quantitative", "scale": {"domain": [-1.61, 42.45], "nice": false, "zero": false}},
     "y": {"field": "v", "type": "quantitative", "scale": {"domain": [-6.34, 104.9], "nice": false, "zero": false}},
     "x2": {"field": "t2"},
     "y2": {"field": "v2"},
     "color": {"condition": {"test": "datum.v2 >= datum.v", "value": "#0000ff"}, "value": "#ff0000"}
    }},
   {"data": {"name": "sticks"},
    "transform": [{"filter": "datum.v === 40 || datum.v === 60"}],
    "mark": {"type": "text", "align": "left", "baseline": "middle", "fontSize": 9, "color": "#000000"},
    "encoding": {
     "x": {"datum": 42.93, "type": "quantitative", "scale": {"domain": [-1.61, 42.45], "nice": false, "zero": false}},
     "y": {"field": "v", "type": "quantitative", "scale": {"domain": [-6.34, 104.9], "nice": false, "zero": false}},
     "text": {"field": "label"}
    }},
   {"data": {"name": "sticks"},
    "transform": [{"filter": "datum.v === 0 || datum.v === 100"}],
    "mark": {"type": "text", "align": "left", "baseline": "middle", "fontSize": 10, "fontWeight": "bold", "color": "#000000"},
    "encoding": {
     "x": {"datum": 42.93, "type": "quantitative", "scale": {"domain": [-1.61, 42.45], "nice": false, "zero": false}},
     "y": {"field": "v", "type": "quantitative", "scale": {"domain": [-6.34, 104.9], "nice": false, "zero": false}},
     "text": {"field": "label"}
    }},
   {"data": {"name": "xticks"},
    "transform": [{"filter": "datum.t % 24 !== 0"}],
    "mark": {"type": "text", "align": "center", "baseline": "middle", "fontSize": 9, "color": "#000000"},
    "encoding": {
     "x": {"field": "t", "type": "quantitative", "scale": {"domain": [-1.61, 42.45], "nice": false, "zero": false}},
     "y": {"datum": -15.6, "type": "quantitative", "scale": {"domain": [-6.34, 104.9], "nice": false, "zero": false}},
     "text": {"field": "label"}
    }},
   {"data": {"name": "xticks"},
    "transform": [{"filter": "datum.t % 24 === 0"}],
    "mark": {"type": "text", "align": "center", "baseline": "middle", "fontSize": 12, "fontWeight": "bold", "color": "#000000"},
    "encoding": {
     "x": {"field": "t", "type": "quantitative", "scale": {"domain": [-1.61, 42.45], "nice": false, "zero": false}},
     "y": {"datum": -15.6, "type": "quantitative", "scale": {"domain": [-6.34, 104.9], "nice": false, "zero": false}},
     "text": {"field": "label"}
    }},
   {"data": {"name": "slabels"},
    "transform": [{"filter": "datum.kind === 'lvl'"}],
    "mark": {"type": "point", "shape": "M-1,-0.833H1V0.833H-1Z", "size": 144, "filled": true, "opacity": 1, "fill": "#ffffff", "stroke": "#404040", "strokeWidth": 1},
    "encoding": {
     "x": {"datum": 43.35, "type": "quantitative", "scale": {"domain": [-1.61, 42.45], "nice": false, "zero": false}},
     "y": {"field": "v", "type": "quantitative", "scale": {"domain": [-6.34, 104.9], "nice": false, "zero": false}}
    }},
   {"data": {"name": "slabels"},
    "transform": [{"filter": "datum.kind !== 'lvl'"}],
    "mark": {"type": "point", "shape": "M-1,-0.333H1V0.333H-1Z", "size": 900, "filled": true, "opacity": 1, "fill": "#ffffff", "stroke": "#000000", "strokeWidth": 1},
    "encoding": {
     "x": {"datum": 43.9, "type": "quantitative", "scale": {"domain": [-1.61, 42.45], "nice": false, "zero": false}},
     "y": {"field": "v", "type": "quantitative", "scale": {"domain": [-6.34, 104.9], "nice": false, "zero": false}}
    }},
   {"data": {"name": "slabels"},
    "transform": [{"filter": "datum.kind === 'lvl'"}],
    "mark": {"type": "text", "align": "center", "baseline": "middle", "fontSize": 9, "color": "#3030ff"},
    "encoding": {
     "x": {"datum": 43.35, "type": "quantitative", "scale": {"domain": [-1.61, 42.45], "nice": false, "zero": false}},
     "y": {"field": "v", "type": "quantitative", "scale": {"domain": [-6.34, 104.9], "nice": false, "zero": false}},
     "text": {"field": "label"}
    }},
   {"data": {"name": "slabels"},
    "transform": [{"filter": "datum.kind === 'k'"}],
    "mark": {"type": "text", "align": "center", "baseline": "middle", "fontSize": 9, "color": "#000000"},
    "encoding": {
     "x": {"datum": 43.9, "type": "quantitative", "scale": {"domain": [-1.61, 42.45], "nice": false, "zero": false}},
     "y": {"field": "v", "type": "quantitative", "scale": {"domain": [-6.34, 104.9], "nice": false, "zero": false}},
     "text": {"field": "label"}
    }}
  ]}
]}
]
}
